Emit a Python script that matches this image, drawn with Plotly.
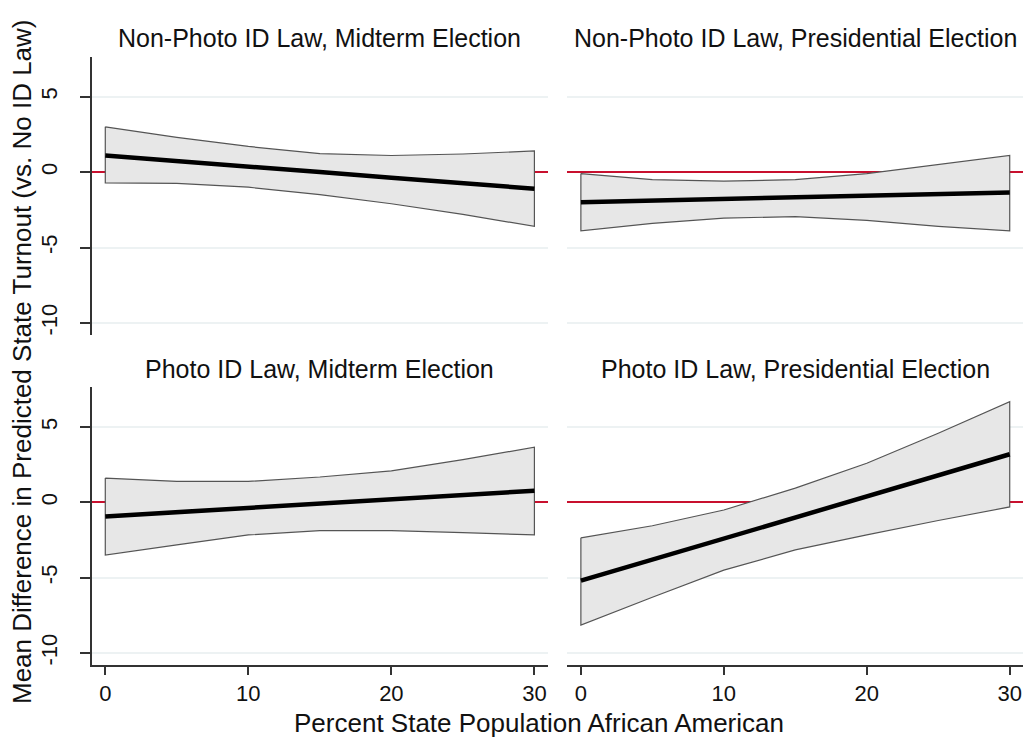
import plotly.graph_objects as go

# ---------------- data ----------------
x_pct = [0, 5, 10, 15, 20, 25, 30]

titles = [
    "Non-Photo ID Law, Midterm Election",
    "Non-Photo ID Law, Presidential Election",
    "Photo ID Law, Midterm Election",
    "Photo ID Law, Presidential Election",
]

# Non-Photo ID, Midterm
np_mid_mean = [1.10, 0.75, 0.38, 0.00, -0.38, -0.74, -1.10]
np_mid_upper = [3.00, 2.30, 1.70, 1.22, 1.10, 1.20, 1.40]
np_mid_lower = [-0.72, -0.75, -1.00, -1.50, -2.10, -2.80, -3.60]

# Non-Photo ID, Presidential
np_pres_mean = [-2.00, -1.90, -1.80, -1.68, -1.57, -1.46, -1.35]
np_pres_upper = [-0.10, -0.50, -0.60, -0.50, -0.10, 0.50, 1.10]
np_pres_lower = [-3.90, -3.40, -3.05, -2.95, -3.20, -3.60, -3.90]

# Photo ID, Midterm
p_mid_mean = [-0.93, -0.65, -0.37, -0.08, 0.22, 0.50, 0.78]
p_mid_upper = [1.62, 1.40, 1.40, 1.69, 2.10, 2.84, 3.67]
p_mid_lower = [-3.49, -2.82, -2.16, -1.87, -1.87, -2.00, -2.16]

# Photo ID, Presidential
p_pres_mean = [-5.20, -3.80, -2.40, -0.95, 0.40, 1.80, 3.20]
p_pres_upper = [-2.35, -1.55, -0.50, 0.95, 2.60, 4.60, 6.70]
p_pres_lower = [-8.15, -6.30, -4.50, -3.15, -2.15, -1.20, -0.30]

panels = [
    (np_mid_mean, np_mid_upper, np_mid_lower),
    (np_pres_mean, np_pres_upper, np_pres_lower),
    (p_mid_mean, p_mid_upper, p_mid_lower),
    (p_pres_mean, p_pres_upper, p_pres_lower),
]

x_ticks = [0, 10, 20, 30]
y_ticks = [-10, -5, 0, 5]

# ---------------- figure ----------------
W, H = 1024, 745
FONT = "Liberation Sans, Arial, sans-serif"
TXT = "#111111"

fig = go.Figure()

for i, (mean, up, lo) in enumerate(panels):
    n = i + 1
    xa = "x" if n == 1 else f"x{n}"
    ya = "y" if n == 1 else f"y{n}"
    # confidence band polygon
    fig.add_trace(go.Scatter(
        x=x_pct + x_pct[::-1] + [x_pct[0]],
        y=up + lo[::-1] + [up[0]],
        mode="lines", fill="toself",
        fillcolor="#e7e7e7",
        line=dict(color="#555555", width=1.2),
        xaxis=xa, yaxis=ya, showlegend=False, hoverinfo="skip",
    ))
    # mean line
    fig.add_trace(go.Scatter(
        x=x_pct, y=mean, mode="lines",
        line=dict(color="#000000", width=4.5),
        xaxis=xa, yaxis=ya, showlegend=False,
    ))

# domains in paper fractions
xl = [91.7 / W, 548 / W]
xr = [567.3 / W, 1023.3 / W]
yt = [1 - 335 / H, 1 - 56.7 / H]
yb = [1 - 665 / H, 1 - 387.3 / H]

xrange_ = [-0.95, 30.95]
yrange_ = [-10.8, 7.65]

grid = dict(showgrid=True, gridcolor="#edf2f3", gridwidth=1.5,
            zeroline=True, zerolinecolor="#c8102e", zerolinewidth=2)

def xaxis(dom, anchor, bottom):
    d = dict(domain=dom, anchor=anchor, range=xrange_, zeroline=False,
             showgrid=False, fixedrange=True)
    if bottom:
        d.update(showline=True, linecolor="#333333", linewidth=1.5,
                 ticks="outside", ticklen=8, tickwidth=1.5, tickcolor="#333333",
                 tickvals=x_ticks, ticktext=[str(v) for v in x_ticks],
                 tickfont=dict(family=FONT, size=22, color=TXT))
    else:
        d.update(showline=False, showticklabels=False, ticks="")
    return d

def yaxis(dom, anchor, left):
    d = dict(domain=dom, anchor=anchor, range=yrange_, tickvals=y_ticks,
             fixedrange=True, **grid)
    if left:
        d.update(showline=True, linecolor="#333333", linewidth=1.5,
                 ticks="outside", ticklen=10, tickwidth=1.5, tickcolor="#333333",
                 ticktext=[str(v) for v in y_ticks], tickangle=-90,
                 ticklabelstandoff=14,
                 tickfont=dict(family=FONT, size=22, color=TXT))
    else:
        d.update(showline=False, showticklabels=False, ticks="")
    return d

fig.update_layout(
    width=W, height=H,
    margin=dict(l=0, r=0, t=0, b=0),
    paper_bgcolor="white", plot_bgcolor="white",
    font=dict(family=FONT, color=TXT),
    xaxis=xaxis(xl, "y", False),
    xaxis2=xaxis(xr, "y2", False),
    xaxis3=xaxis(xl, "y3", True),
    xaxis4=xaxis(xr, "y4", True),
    yaxis=yaxis(yt, "x", True),
    yaxis2=yaxis(yt, "x2", False),
    yaxis3=yaxis(yb, "x3", True),
    yaxis4=yaxis(yb, "x4", False),
)

title_pos = [
    ((xl[0] + xl[1]) / 2, 1 - 38 / H),
    ((xr[0] + xr[1]) / 2, 1 - 38 / H),
    ((xl[0] + xl[1]) / 2, 1 - 369 / H),
    ((xr[0] + xr[1]) / 2, 1 - 369 / H),
]
for t, (px, py) in zip(titles, title_pos):
    fig.add_annotation(text=t, xref="paper", yref="paper", x=px, y=py,
                       xanchor="center", yanchor="middle", showarrow=False,
                       font=dict(family=FONT, size=25, color=TXT))

fig.add_annotation(text="Percent State Population African American",
                   xref="paper", yref="paper", x=539 / W, y=1 - 723 / H,
                   xanchor="center", yanchor="middle", showarrow=False,
                   font=dict(family=FONT, size=26, color=TXT))
fig.add_annotation(text="Mean Difference in Predicted State Turnout (vs. No ID Law)",
                   xref="paper", yref="paper", x=22 / W, y=1 - 362 / H,
                   xanchor="center", yanchor="middle", showarrow=False,
                   textangle=-90,
                   font=dict(family=FONT, size=26, color=TXT))

fig.write_html("out.html",
               config={"displayModeBar": False},
               post_script="document.body.style.margin='0px';document.body.style.overflow='hidden';")
